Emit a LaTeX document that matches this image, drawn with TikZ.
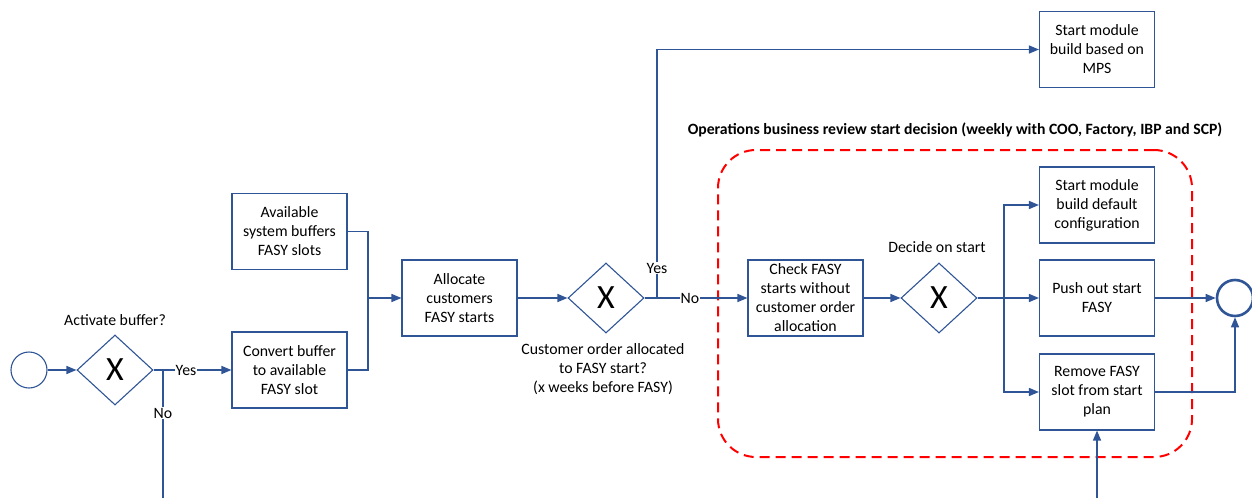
\documentclass[tikz,border=0pt]{standalone}
\usepackage{fontspec}
\setmainfont{Carlito}
\usetikzlibrary{arrows.meta,shapes.geometric}
\definecolor{flow}{RGB}{47,85,151}
\definecolor{zone}{RGB}{255,0,0}

\begin{document}
\begin{tikzpicture}[x=1pt,y=-1pt,
  txt/.style={font=\fontsize{15.8}{19}\selectfont, align=center, inner sep=0pt},
  task/.style={draw=flow, line width=1.1pt, fill=white, minimum width=115pt,
    minimum height=76pt, inner sep=2pt, align=center,
    font=\fontsize{15.8}{19}\selectfont},
  gate/.style={draw=flow, diamond, aspect=1.086, line width=1.1pt, fill=white,
    minimum width=76pt, minimum height=70pt, inner sep=0pt,
    font=\fontsize{34}{34}\selectfont},
  event/.style={draw=flow, circle, minimum size=36pt, inner sep=0pt, fill=white},
  flowline/.style={draw=flow, line width=1.4pt},
  arr/.style={flowline, -{Triangle[length=10pt,width=8pt]}},
  lbl/.style={fill=white, inner sep=1pt, font=\fontsize{15.8}{19}\selectfont},
  zonebox/.style={draw=zone, line width=2pt, dash pattern=on 10pt off 6pt,
    rounded corners=38pt, minimum width=474pt, minimum height=307pt, inner sep=0pt},
]
\useasboundingbox (0,0) rectangle (1252,498);

% review zone
\node[zonebox] (review) at (955,303.5) {};
\node[txt, font=\bfseries\fontsize{15.7}{18}\selectfont] (title) at (955,130)
  {Operations business review start decision (weekly with COO, Factory, IBP and SCP)};

% events and gateways
\node[event, line width=1.1pt] (start) at (29,370) {};
\node[gate] (g1) at (115,370) {X};
\node[gate] (g2) at (606,298) {X};
\node[gate] (g3) at (939,298) {X};
\node[event, line width=2.6pt] (end) at (1235,298) {};

% tasks
\node[task] (avail) at (289.5,231.5) {Available\\system buffers\\FASY slots};
\node[task] (convert) at (289.5,370) {Convert buffer\\to available\\FASY slot};
\node[task] (alloc) at (459.5,298) {Allocate\\customers\\FASY starts};
\node[task] (check) at (805.5,298) {Check FASY\\starts without\\customer order\\allocation};
\node[task] (mps) at (1097,49.5) {Start module\\build based on\\MPS};
\node[task] (deflt) at (1097,205) {Start module\\build default\\configuration};
\node[task] (push) at (1097,298) {Push out start\\FASY};
\node[task] (remove) at (1097,392) {Remove FASY\\slot from start\\plan};

% gateway captions
\node[txt] (q1) at (115,320) {Activate buffer?};
\node[txt] (q2) at (603,369) {Customer order allocated\\to FASY start?\\(x weeks before FASY)};
\node[txt] (q3) at (937,247) {Decide on start};

% branch points and loose ends
\coordinate (j1) at (163,370);
\coordinate (n1) at (163,498);
\coordinate (m1) at (368,298);
\coordinate (j2) at (657,298);
\coordinate (j3) at (1004,298);
\coordinate (in2) at (1097,498);

% sequence flows
\draw[arr] (start) -- (g1);
\draw[arr] (g1.east) -- (convert.west);
\draw[flowline] (j1) -- (n1);
\draw[flowline] (avail.east) -| (m1);
\draw[flowline] (convert.east) -| (m1);
\draw[arr] (m1) -- (alloc.west);
\draw[arr] (alloc.east) -- (g2.west);
\draw[flowline] (g2.east) -- (j2);
\draw[arr] (j2) |- (mps.west);
\draw[arr] (j2) -- (check.west);
\draw[arr] (check.east) -- (g3.west);
\draw[arr] (g3.east) -- (push.west);
\draw[arr] (j3) |- (deflt.west);
\draw[arr] (j3) |- (remove.west);
\draw[arr] (push.east) -- (end.west);
\draw[arr] (remove.east) -| (end.south);
\draw[arr] (in2) -- (remove.south);

% flow labels
\node[lbl] (yes1) at (186,370) {Yes};
\node[lbl] (no1) at (163,413) {No};
\node[lbl] (yes2) at (657,268) {Yes};
\node[lbl] (no2) at (690,298) {No};
\end{tikzpicture}
\end{document}
